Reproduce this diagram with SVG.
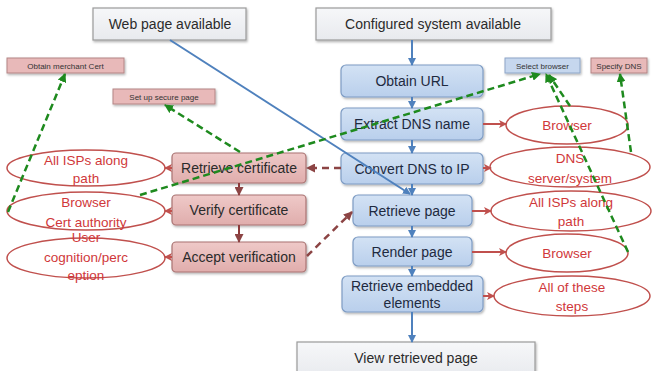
<svg xmlns="http://www.w3.org/2000/svg" width="654" height="371" viewBox="0 0 654 371">
<style>
text{font-family:"Liberation Sans",Arial,sans-serif;text-anchor:middle}
.top{fill:url(#gGray);stroke:#9a9a9a;stroke-width:1.2;filter:url(#sh)}
.blue{fill:url(#gBlue);stroke:#7e9cc4;stroke-width:1.2;filter:url(#sh)}
.pink{fill:url(#gPink);stroke:#a97372;stroke-width:1.2;filter:url(#sh)}
.sblue{fill:#c6d7ee;stroke:#8ea6c8;stroke-width:1;filter:url(#sh)}
.spink{fill:#e8b9b9;stroke:#b48585;stroke-width:1;filter:url(#sh)}
.ell{fill:#fff;stroke:#c0504d;stroke-width:1.5}
.t{font-size:14px;fill:#2b2b2b}
.tb{font-size:14px;fill:#1e2a40}
.tr{font-size:13.5px;fill:#d0383a}
.ts{font-size:8px;fill:#333}
.bl{stroke:#4f81bd;stroke-width:2;fill:none}
.rd{stroke:#c0504d;stroke-width:2;fill:none}
.br{stroke:#8c4444;stroke-width:2.5;fill:none;stroke-dasharray:7 5}
.brs{stroke:#8c3a3a;stroke-width:2;fill:none}
.gr{stroke:#1e8a1e;stroke-width:2.5;fill:none;stroke-dasharray:7 4}
</style>
<defs>
<linearGradient id="gGray" x1="0" y1="0" x2="0" y2="1"><stop offset="0" stop-color="#f6f7f9"/><stop offset="1" stop-color="#e8eaee"/></linearGradient>
<linearGradient id="gBlue" x1="0" y1="0" x2="0" y2="1"><stop offset="0" stop-color="#d3e2f4"/><stop offset="1" stop-color="#b9cfec"/></linearGradient>
<linearGradient id="gPink" x1="0" y1="0" x2="0" y2="1"><stop offset="0" stop-color="#efc9c8"/><stop offset="1" stop-color="#e0adac"/></linearGradient>
<filter id="sh" x="-10%" y="-20%" width="130%" height="160%"><feDropShadow dx="1" dy="1.5" stdDeviation="1" flood-color="#000" flood-opacity="0.3"/></filter>
<marker id="aBlue" markerUnits="userSpaceOnUse" markerWidth="8" markerHeight="8" refX="7" refY="4" orient="auto"><path d="M0,0 L8,4 L0,8 z" fill="#4f81bd"/></marker>
<marker id="aRed" markerUnits="userSpaceOnUse" markerWidth="8" markerHeight="8" refX="7" refY="4" orient="auto"><path d="M0,0 L8,4 L0,8 L2,4 z" fill="#c0504d"/></marker>
<marker id="aBrown" markerUnits="userSpaceOnUse" markerWidth="9" markerHeight="9" refX="8" refY="4.5" orient="auto"><path d="M0,0 L9,4.5 L0,9 z" fill="#8c4444"/></marker>
<marker id="aGreen" markerUnits="userSpaceOnUse" markerWidth="9" markerHeight="9" refX="8" refY="4.5" orient="auto"><path d="M0,0 L9,4.5 L0,9 z" fill="#1e8a1e"/></marker>
</defs>
<rect width="654" height="371" fill="#fff"/>

<g id="web"><rect class="top" x="93" y="8" width="153" height="32"/><text class="t" x="170" y="29">Web page available</text></g>
<g id="config"><rect class="top" x="316" y="8" width="235" height="32"/><text class="t" x="433" y="29">Configured system available</text></g>
<g id="obtainURL"><rect class="blue" x="341" y="65" width="142" height="32" rx="5"/><text class="tb" x="412" y="86">Obtain URL</text></g>
<g id="extract"><rect class="blue" x="341" y="108" width="142" height="32" rx="5"/><text class="tb" x="412" y="129">Extract DNS name</text></g>
<g id="convert"><rect class="blue" x="341" y="153" width="142" height="31" rx="5"/><text class="tb" x="412" y="174">Convert DNS to IP</text></g>
<g id="retrievePage"><rect class="blue" x="353" y="195" width="119" height="31" rx="5"/><text class="tb" x="412" y="216">Retrieve page</text></g>
<g id="render"><rect class="blue" x="353" y="237" width="119" height="29" rx="5"/><text class="tb" x="412" y="257">Render page</text></g>
<g id="embedded"><rect class="blue" x="342" y="276" width="141" height="36" rx="5"/><text class="tb" x="412" y="291">Retrieve embedded</text><text class="tb" x="412" y="308">elements</text></g>
<g id="view"><rect class="top" x="297" y="342" width="238" height="36"/><text class="t" x="416" y="363">View retrieved page</text></g>

<g id="browser1"><ellipse class="ell" cx="567" cy="125" rx="61" ry="19"/><text class="tr" x="567" y="130">Browser</text></g>
<g id="dns"><ellipse class="ell" cx="570" cy="167" rx="80" ry="20"/><text class="tr" x="570" y="163">DNS</text><text class="tr" x="570" y="183">server/system</text></g>
<g id="ispsRight"><ellipse class="ell" cx="571" cy="211" rx="80" ry="20"/><text class="tr" x="571" y="207">All ISPs along</text><text class="tr" x="571" y="226">path</text></g>
<g id="browser2"><ellipse class="ell" cx="567" cy="253" rx="61" ry="19"/><text class="tr" x="567" y="258">Browser</text></g>
<g id="allSteps"><ellipse class="ell" cx="572" cy="296" rx="78" ry="20"/><text class="tr" x="572" y="292">All of these</text><text class="tr" x="572" y="311">steps</text></g>

<g id="ispsLeft"><ellipse class="ell" cx="86" cy="168" rx="79" ry="18"/><text class="tr" x="86" y="165">All ISPs along</text><text class="tr" x="86" y="183">path</text></g>
<g id="certAuth"><ellipse class="ell" cx="86" cy="211" rx="79" ry="19"/><text class="tr" x="86" y="207">Browser</text><text class="tr" x="86" y="227">Cert authority</text></g>
<g id="user"><ellipse class="ell" cx="86" cy="258" rx="79" ry="20"/><text class="tr" x="86" y="242">User</text><text class="tr" x="86" y="262">cognition/perc</text><text class="tr" x="86" y="280">eption</text></g>

<g id="retrieveCert"><rect class="pink" x="172" y="153" width="134" height="30" rx="4"/><text class="t" x="239" y="173">Retrieve certificate</text></g>
<g id="verify"><rect class="pink" x="172" y="195" width="134" height="30" rx="4"/><text class="t" x="239" y="215">Verify certificate</text></g>
<g id="accept"><rect class="pink" x="172" y="242" width="134" height="30" rx="4"/><text class="t" x="239" y="262">Accept verification</text></g>

<g id="merchant"><rect class="spink" x="7" y="58" width="117" height="15"/><text class="ts" x="65.5" y="68.5">Obtain merchant Cert</text></g>
<g id="secure"><rect class="spink" x="113" y="89" width="102" height="15"/><text class="ts" x="164" y="99.5">Set up secure page</text></g>
<g id="selectBrowser"><rect class="sblue" x="505" y="58" width="75" height="15"/><text class="ts" x="542.5" y="68.5">Select browser</text></g>
<g id="specifyDNS"><rect class="spink" x="591" y="58" width="56" height="15"/><text class="ts" x="619" y="68.5">Specify DNS</text></g>

<g id="connectors">
<line class="bl" x1="412" y1="40" x2="412" y2="65" marker-end="url(#aBlue)"/>
<line class="bl" x1="412" y1="97" x2="412" y2="108" marker-end="url(#aBlue)"/>
<line class="bl" x1="412" y1="140" x2="412" y2="153" marker-end="url(#aBlue)"/>
<line class="bl" x1="412" y1="184" x2="412" y2="195" marker-end="url(#aBlue)"/>
<line class="bl" x1="412" y1="226" x2="412" y2="237" marker-end="url(#aBlue)"/>
<line class="bl" x1="412" y1="266" x2="412" y2="276" marker-end="url(#aBlue)"/>
<line class="bl" x1="412" y1="312" x2="412" y2="342" marker-end="url(#aBlue)"/>
<line class="bl" x1="170" y1="40" x2="410" y2="194" marker-end="url(#aBlue)"/>
<line class="rd" x1="483" y1="124" x2="506" y2="124" marker-end="url(#aRed)"/>
<line class="rd" x1="483" y1="168" x2="491" y2="168" marker-end="url(#aRed)"/>
<line class="rd" x1="472" y1="211" x2="491" y2="211" marker-end="url(#aRed)"/>
<line class="rd" x1="472" y1="252" x2="506" y2="252" marker-end="url(#aRed)"/>
<line class="rd" x1="483" y1="296" x2="494" y2="296" marker-end="url(#aRed)"/>
<line class="rd" x1="172" y1="168" x2="165" y2="168" marker-end="url(#aRed)"/>
<line class="rd" x1="172" y1="211" x2="165" y2="211" marker-end="url(#aRed)"/>
<line class="rd" x1="172" y1="257" x2="165" y2="257" marker-end="url(#aRed)"/>
<line class="brs" x1="239" y1="183" x2="239" y2="195" marker-end="url(#aBrown)"/>
<line class="brs" x1="239" y1="225" x2="239" y2="242" marker-end="url(#aBrown)"/>
<line class="br" x1="341" y1="168" x2="307" y2="168" marker-end="url(#aBrown)"/>
<line class="br" x1="307" y1="256" x2="352" y2="212" marker-end="url(#aBrown)"/>
<line class="gr" x1="8" y1="212" x2="65" y2="74" marker-end="url(#aGreen)"/>
<line class="gr" x1="240" y1="152" x2="165" y2="105" marker-end="url(#aGreen)"/>
<line class="gr" x1="140" y1="195" x2="540" y2="74" marker-end="url(#aGreen)"/>
<line class="gr" x1="628" y1="252" x2="546" y2="74" marker-end="url(#aGreen)"/>
<line class="gr" x1="570" y1="106" x2="549" y2="75" marker-end="url(#aGreen)"/>
<line class="gr" x1="631" y1="152" x2="620" y2="74" marker-end="url(#aGreen)"/>
</g>
</svg>
